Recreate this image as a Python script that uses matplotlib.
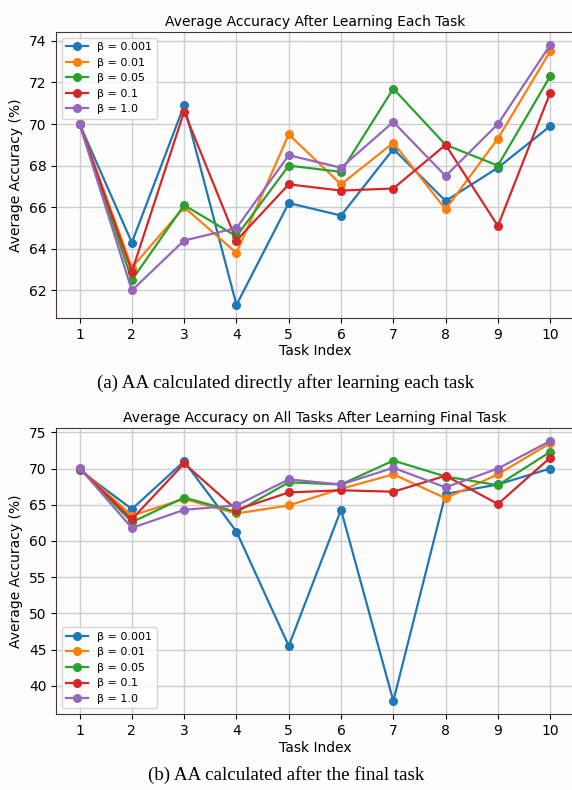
import matplotlib
matplotlib.use('Agg')
import matplotlib.pyplot as plt

# task indices and beta settings
tasks = [1, 2, 3, 4, 5, 6, 7, 8, 9, 10]
betas = ['0.001', '0.01', '0.05', '0.1', '1.0']

# AA right after each task is learned
aa_each_b0001 = [70.0, 64.3, 70.9, 61.3, 66.2, 65.6, 68.8, 66.3, 67.9, 69.9]
aa_each_b001 = [70.0, 63.1, 66.0, 63.8, 69.5, 67.1, 69.1, 65.9, 69.3, 73.5]
aa_each_b005 = [70.0, 62.5, 66.1, 64.6, 68.0, 67.7, 71.7, 69.0, 68.0, 72.3]
aa_each_b01 = [70.0, 62.9, 70.6, 64.4, 67.1, 66.8, 66.9, 69.0, 65.1, 71.5]
aa_each_b1 = [70.0, 62.0, 64.4, 65.0, 68.5, 67.9, 70.1, 67.5, 70.0, 73.8]

# AA on all tasks after learning the final task
aa_final_b0001 = [69.8, 64.4, 71.0, 61.3, 45.5, 64.3, 37.9, 66.5, 67.8, 70.0]
aa_final_b001 = [70.0, 63.5, 65.8, 63.8, 64.9, 67.2, 69.2, 65.9, 69.2, 73.5]
aa_final_b005 = [70.0, 62.6, 66.0, 64.0, 68.1, 67.8, 71.1, 68.9, 67.7, 72.3]
aa_final_b01 = [70.0, 63.0, 70.7, 64.3, 66.7, 67.0, 66.8, 69.0, 65.1, 71.5]
aa_final_b1 = [70.1, 61.8, 64.3, 64.9, 68.5, 67.8, 70.1, 67.4, 70.0, 73.8]

each_series = [aa_each_b0001, aa_each_b001, aa_each_b005, aa_each_b01, aa_each_b1]
final_series = [aa_final_b0001, aa_final_b001, aa_final_b005, aa_final_b01, aa_final_b1]


def draw_panel(ax, series, title, legend_loc):
    for beta, vals in zip(betas, series):
        ax.plot(tasks, vals, marker='o', markersize=5.5, linewidth=1.6,
                label='\u03b2 = ' + beta)
    ax.set_title(title, fontsize=10, pad=4)
    ax.set_xlabel('Task Index', fontsize=10, labelpad=2)
    ax.set_ylabel('Average Accuracy (%)', fontsize=10)
    ax.set_xticks(tasks)
    ax.tick_params(labelsize=10)
    ax.grid(True, color='#cbcfd3', linewidth=1.0)
    ax.set_axisbelow(True)
    ax.set_facecolor('#fdfdfe')
    for side in ['left', 'bottom', 'top']:
        ax.spines[side].set_color('#4a3530')
    ax.spines['right'].set_visible(False)
    ax.legend(loc=legend_loc, fontsize=8, framealpha=0.8)


fig = plt.figure(figsize=(5.72, 7.90), dpi=100)
fig.patch.set_facecolor('#fdfdfe')

ax1 = fig.add_axes([0.098, 0.5975, 0.905, 0.362])
draw_panel(ax1, each_series, 'Average Accuracy After Learning Each Task', 'upper left')

ax2 = fig.add_axes([0.098, 0.0962, 0.905, 0.362])
draw_panel(ax2, final_series, 'Average Accuracy on All Tasks After Learning Final Task', 'lower left')

fig.text(0.5, 1 - 383 / 790, '(a) AA calculated directly after learning each task',
         ha='center', va='center', fontsize=13.7, family='Liberation Serif')
fig.text(0.5, 1 - 775 / 790, '(b) AA calculated after the final task',
         ha='center', va='center', fontsize=13.7, family='Liberation Serif')

fig.savefig('out.png', dpi=100)
